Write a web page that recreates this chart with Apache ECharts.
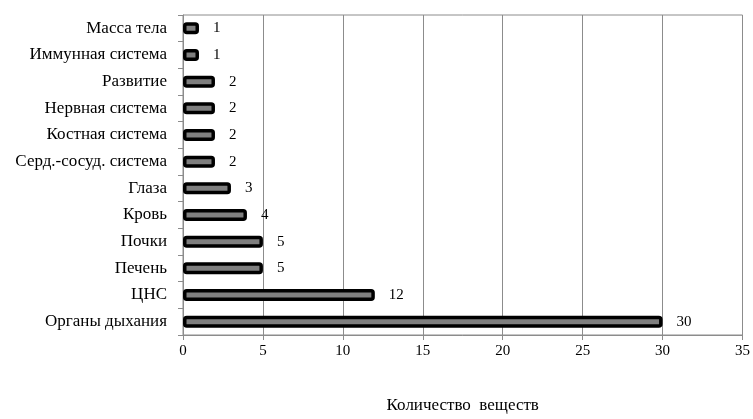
<!DOCTYPE html>
<html>
<head>
<meta charset="utf-8">
<script src="https://cdn.jsdelivr.net/npm/echarts@6/dist/echarts.min.js"></script>
<style>
  html, body { margin: 0; padding: 0; background: #fff; }
  #chart { width: 753px; height: 419px; }
</style>
</head>
<body>
<div id="chart"></div>
<script>
// Categories listed from the bottom of the axis upward
const categories = [
  'Органы дыхания', 'ЦНС', 'Печень', 'Почки', 'Кровь', 'Глаза',
  'Серд.-сосуд. система', 'Костная система', 'Нервная система',
  'Развитие', 'Иммунная система', 'Масса тела'
];
const counts = [30, 12, 5, 5, 4, 3, 2, 2, 2, 2, 1, 1];
const xTicks = [0, 5, 10, 15, 20, 25, 30, 35];
const axisTitle = 'Количество  веществ';

const font = '"Liberation Serif", "Times New Roman", serif';
const chart = echarts.init(document.getElementById('chart'), null, { renderer: 'canvas' });

chart.setOption({
  animation: false,
  backgroundColor: '#fff',
  grid: {
    left: 183, right: 9, top: 15, bottom: 83,
    show: true, borderColor: '#8c8c8c', borderWidth: 1
  },
  xAxis: {
    type: 'value',
    min: xTicks[0],
    max: xTicks[xTicks.length - 1],
    interval: 5,
    name: axisTitle,
    nameLocation: 'middle',
    nameGap: 62,
    nameTextStyle: { fontFamily: font, fontSize: 17, color: '#000' },
    axisLine: { show: true, lineStyle: { color: '#8c8c8c', width: 1 } },
    axisTick: { show: true, length: 5, lineStyle: { color: '#8c8c8c' } },
    axisLabel: { fontFamily: font, fontSize: 15, color: '#000', margin: 9 },
    splitLine: { show: true, lineStyle: { color: '#8c8c8c', width: 1 } }
  },
  yAxis: {
    type: 'category',
    data: categories,
    axisLine: { show: true, lineStyle: { color: '#8c8c8c', width: 1 } },
    axisTick: { show: true, length: 5, alignWithLabel: false, lineStyle: { color: '#8c8c8c' } },
    axisLabel: { fontFamily: font, fontSize: 17, color: '#000', margin: 16 },
    splitLine: { show: false }
  },
  series: [{
    type: 'bar',
    data: counts,
    barWidth: 12,
    itemStyle: {
      color: '#7f7f7f',
      borderColor: '#000',
      borderWidth: 3.5,
      borderRadius: 2
    },
    label: {
      show: true,
      position: 'right',
      distance: 14,
      fontFamily: font,
      fontSize: 15,
      color: '#000'
    }
  }]
});
</script>
</body>
</html>
